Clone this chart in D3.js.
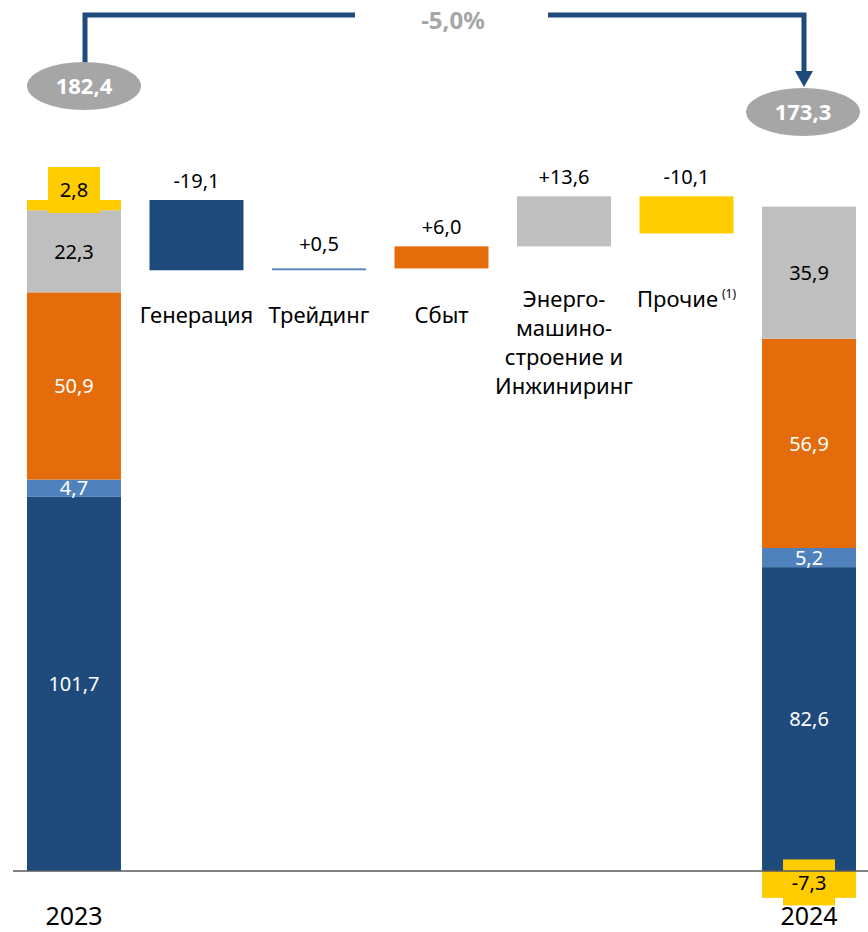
<!DOCTYPE html>
<html>
<head>
<meta charset="utf-8">
<script src="https://cdn.jsdelivr.net/npm/d3@7"></script>
<style>
  body { margin: 0; background: #fff; }
  text { font-family: "Noto Sans", sans-serif; }
</style>
</head>
<body>
<div id="chart"></div>
<script>
var width = 868, height = 932;

// data
var categories = ["2023", "Генерация", "Трейдинг", "Сбыт", "Энерго-машино-строение", "Прочие", "2024"];
var catLabels = [[], ["Генерация"], ["Трейдинг"], ["Сбыт"], ["Энерго-", "машино-", "строение и", "Инжиниринг"], ["Прочие"], []];
var segNames = ["Генерация", "Трейдинг", "Сбыт", "Энергомашиностроение", "Прочие"];
var values2023 = [101.7, 4.7, 50.9, 22.3, 2.8];
var changes = [-19.1, 0.5, 6.0, 13.6, -10.1];
var values2024 = [82.6, 5.2, 56.9, 35.9, -7.3];
var total2023 = 182.4, total2024 = 173.3;
var changePct = "-5,0%";

var colors = ["#1f4a7c", "#4f81bd", "#e46c0a", "#bfbfbf", "#ffcc00"];
var textColors = ["#fff", "#fff", "#fff", "#000", "#000"];

var ru = d3.formatLocale({decimal: ",", thousands: " ", grouping: [3], currency: ["", ""], minus: "-"});
var fmt = ru.format(".1f");
var fmtSigned = function(v) { return (v > 0 ? "+" : "") + fmt(v); };

var svg = d3.select("#chart").append("svg")
    .attr("width", width)
    .attr("height", height);

var x = d3.scaleBand()
    .domain(categories)
    .range([27, 856])
    .paddingInner(0.233)
    .paddingOuter(0);

var y = d3.scaleLinear()
    .domain([0, total2023])
    .range([871, 200]);

// stacked bars
function stackSegs(vals) {
  var out = [], acc = 0, neg = 0;
  vals.forEach(function(v, i) {
    if (v >= 0) { out.push({i: i, v: v, y0: acc, y1: acc + v}); acc += v; }
    else { out.push({i: i, v: v, y0: neg + v, y1: neg}); neg += v; }
  });
  return out;
}

var s2023 = stackSegs(values2023);
var s2024 = stackSegs(values2024);

function drawStack(segs, cat) {
  var g = svg.append("g");
  g.selectAll("rect")
    .data(segs)
    .enter().append("rect")
    .attr("x", x(cat))
    .attr("width", x.bandwidth())
    .attr("y", d => y(d.y1))
    .attr("height", d => y(d.y0) - y(d.y1))
    .attr("fill", d => colors[d.i]);

  segs.forEach(function(d) {
    var cx = x(cat) + x.bandwidth() / 2;
    var cy = (y(d.y0) + y(d.y1)) / 2;
    var small = Math.abs(y(d.y0) - y(d.y1)) < 30;
    if (small && d.i == 4) {
      // yellow highlight box for tiny segment
      cy = d.v > 0 ? y(d.y1) - 10 : cy - 2;
      g.append("rect")
        .attr("x", cx - 26).attr("y", cy - 23)
        .attr("width", 52).attr("height", 46)
        .attr("fill", colors[4]);
    }
    g.append("text")
      .attr("x", cx)
      .attr("y", cy)
      .attr("dy", "0.36em")
      .attr("text-anchor", "middle")
      .style("font-size", "20px")
      .style("fill", textColors[d.i])
      .text(fmt(d.v));
  });
}

drawStack(s2023, "2023");
drawStack(s2024, "2024");

// waterfall steps
var level = total2023;
var steps = changes.map(function(c, i) {
  var s = {i: i, v: c, start: level, end: level + c};
  level += c;
  return s;
});

svg.append("g").selectAll("rect")
  .data(steps)
  .enter().append("rect")
  .attr("x", d => x(categories[d.i + 1]))
  .attr("width", x.bandwidth())
  .attr("y", d => y(Math.max(d.start, d.end)))
  .attr("height", d => Math.abs(y(d.start) - y(d.end)))
  .attr("fill", d => colors[d.i]);

svg.append("g").selectAll("text")
  .data(steps)
  .enter().append("text")
  .attr("x", d => x(categories[d.i + 1]) + x.bandwidth() / 2)
  .attr("y", d => y(Math.max(d.start, d.end)) - (Math.abs(y(d.start) - y(d.end)) < 5 ? 17 : 12))
  .attr("text-anchor", "middle")
  .style("font-size", "20px")
  .style("fill", "#000")
  .text(d => fmtSigned(d.v));

// category labels
catLabels.forEach(function(lines, i) {
  if (!lines.length) return;
  var cx = x(categories[i]) + x.bandwidth() / 2;
  var top = i >= 4 ? 307 : 323;
  var t = svg.append("text")
    .attr("text-anchor", "middle")
    .style("font-size", "22px")
    .style("fill", "#000");
  lines.forEach(function(l, k) {
    t.append("tspan").attr("x", cx).attr("y", top + k * 29).text(l);
  });
  if (i == 5) {
    t.append("tspan").attr("dx", 4).attr("dy", -9).style("font-size", "12px").text("(1)");
  }
});

// baseline
svg.append("line")
  .attr("x1", 13).attr("x2", 868)
  .attr("y1", y(0)).attr("y2", y(0))
  .attr("stroke", "#595959")
  .attr("stroke-width", 1.3);

// year labels
["2023", "2024"].forEach(function(c) {
  svg.append("text")
    .attr("x", x(c) + x.bandwidth() / 2)
    .attr("y", 925)
    .attr("text-anchor", "middle")
    .style("font-size", "25px")
    .style("fill", "#000")
    .text(c);
});

// top bracket
var lx = 85, rx = 804, ly = 15;
var lineColor = "#1f4a7c";
svg.append("path")
  .attr("d", "M" + lx + "," + 64 + "V" + ly + "H355")
  .attr("fill", "none").attr("stroke", lineColor).attr("stroke-width", 5);
svg.append("path")
  .attr("d", "M548," + ly + "H" + rx + "V72")
  .attr("fill", "none").attr("stroke", lineColor).attr("stroke-width", 5);
svg.append("path")
  .attr("d", "M" + (rx - 9) + ",71L" + (rx + 9) + ",71L" + rx + ",87Z")
  .attr("fill", lineColor);

svg.append("text")
  .attr("x", 453).attr("y", 29)
  .attr("text-anchor", "middle")
  .style("font-size", "24px")
  .style("font-weight", "bold")
  .style("fill", "#a6a6a6")
  .text(changePct);

[[84, 86, total2023], [803, 112, total2024]].forEach(function(e) {
  svg.append("ellipse")
    .attr("cx", e[0]).attr("cy", e[1])
    .attr("rx", 57).attr("ry", 24)
    .attr("fill", "#a6a6a6");
  svg.append("text")
    .attr("x", e[0]).attr("y", e[1])
    .attr("dy", "0.36em")
    .attr("text-anchor", "middle")
    .style("font-size", "22px")
    .style("font-weight", "bold")
    .style("fill", "#fff")
    .text(fmt(e[2]));
});
</script>
</body>
</html>
